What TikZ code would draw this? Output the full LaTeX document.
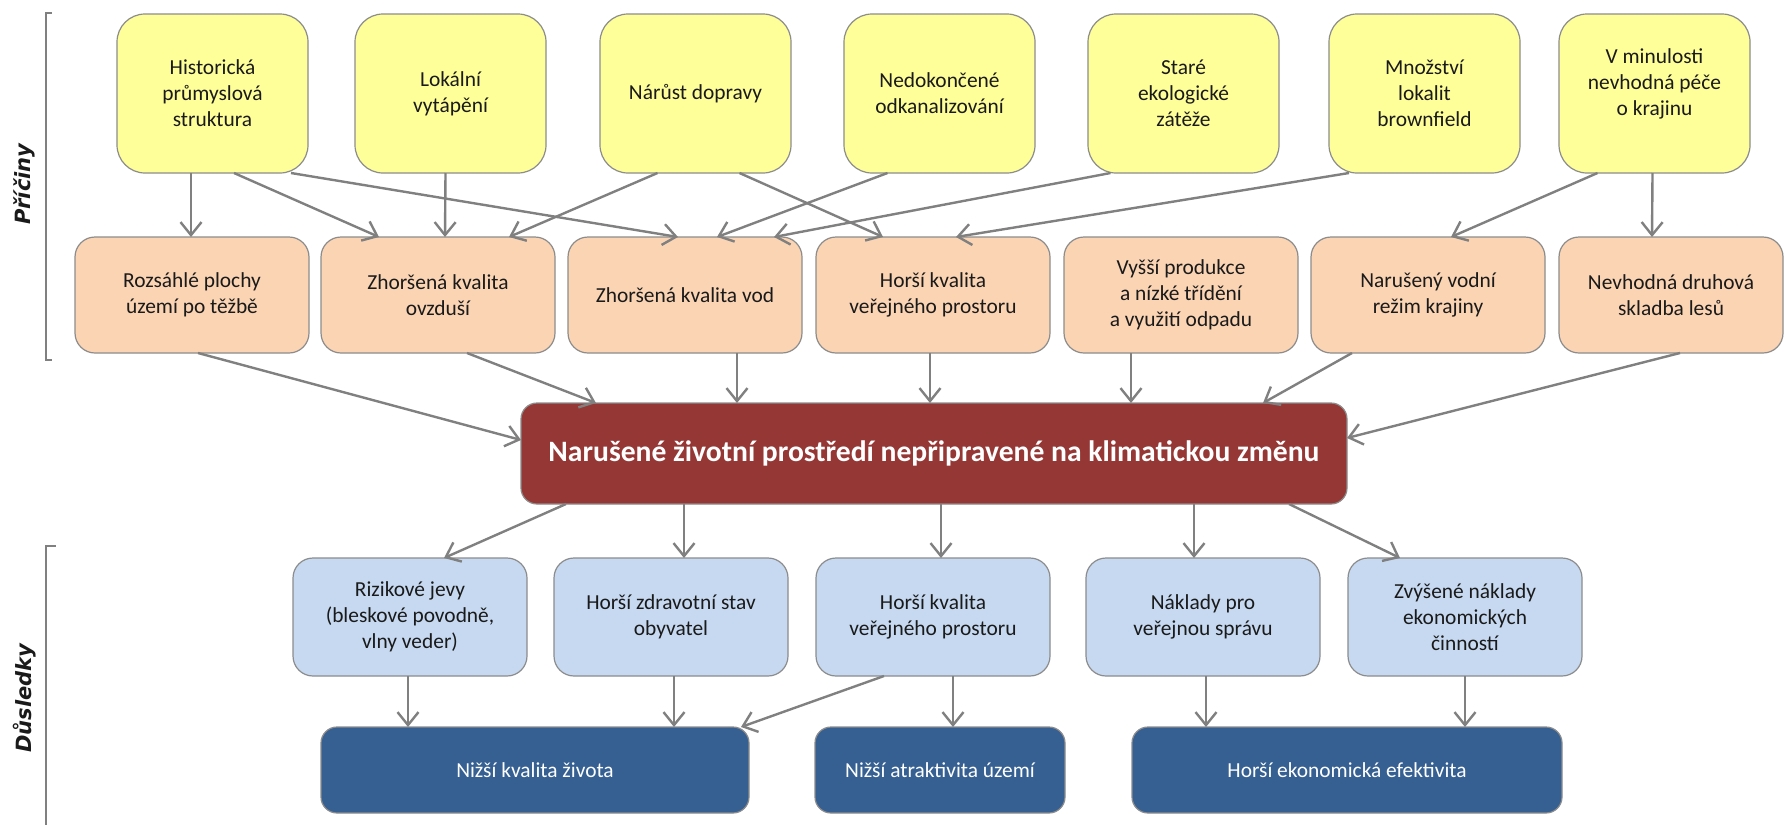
\documentclass[tikz,border=0pt]{standalone}
\usepackage{fontspec}
\setmainfont{Carlito}
\newfontfamily\sidefont{DejaVu Sans}
\usetikzlibrary{arrows.meta,calc}
\definecolor{ylw}{HTML}{FFFF99}
\definecolor{org}{HTML}{FBD4B4}
\definecolor{lblue}{HTML}{C6D9F1}
\definecolor{dblue}{HTML}{366092}
\definecolor{rd}{HTML}{953735}
\definecolor{arrgray}{HTML}{808080}
\definecolor{bordgray}{HTML}{8C8C8C}
\definecolor{txt}{HTML}{1A1A1A}
\begin{document}
\begin{tikzpicture}[x=1pt,y=-1pt,
  basebox/.style={draw=bordgray, line width=1.2pt, anchor=north west, inner sep=2pt, outer sep=0pt,
    align=center, font=\fontsize{21.4}{26}\selectfont, text=txt},
  ybox/.style={basebox, fill=ylw, rounded corners=28pt, minimum width=191pt, minimum height=159pt},
  obox/.style={basebox, fill=org, rounded corners=20pt, minimum width=234pt, minimum height=116pt},
  redbox/.style={basebox, fill=rd, rounded corners=16pt, minimum width=826pt, minimum height=101pt,
    text=white, font=\fontsize{29.6}{34}\selectfont\bfseries},
  bbox/.style={basebox, fill=lblue, rounded corners=20pt, minimum width=234pt, minimum height=118pt},
  dbox/.style={basebox, fill=dblue, rounded corners=16pt, minimum height=86pt, text=white},
  arr/.style={draw=arrgray, line width=2.4pt, -{Straight Barb[length=13pt,width=21pt]}},
  brk/.style={draw=arrgray, line width=2.4pt},
  sidelbl/.style={font=\sidefont\fontsize{21}{24}\selectfont\bfseries\itshape, text=txt, inner sep=0pt}
]
\useasboundingbox (0,0) rectangle (1784,825);

% brackets and side labels
\draw[brk] (52,13) -- (46,13) -- (46,360) -- (52,360);
\draw[brk] (56,546) -- (46,546) -- (46,825);
\node[sidelbl, rotate=90] (pric) at (24,184) {Příčiny};
\node[sidelbl, rotate=90] (dusl) at (25,698) {Důsledky};

% causes (yellow)
\node[ybox] (y1) at (117,14) {Historická\\průmyslová\\struktura};
\node[ybox] (y2) at (355,14) {Lokální\\vytápění};
\node[ybox] (y3) at (600,14) {Nárůst dopravy};
\node[ybox] (y4) at (844,14) {Nedokončené\\odkanalizování};
\node[ybox] (y5) at (1088,14) {Staré\\ekologické\\zátěže};
\node[ybox] (y6) at (1329,14) {Množství\\lokalit\\brownfield};
\node[ybox] (y7) at (1559,14) {V minulosti\\nevhodná péče\\o krajinu\\[-4pt]\mbox{}};

% problems (orange)
\node[obox] (o1) at (75,237) {Rozsáhlé plochy\\území po těžbě};
\node[obox] (o2) at (321,237) {Zhoršená kvalita\\ovzduší};
\node[obox] (o3) at (568,237) {Zhoršená kvalita vod};
\node[obox] (o4) at (816,237) {Horší kvalita\\veřejného prostoru};
\node[obox] (o5) at (1064,237) {Vyšší produkce\\a nízké třídění\\a využití odpadu};
\node[obox] (o6) at (1311,237) {Narušený vodní\\režim krajiny};
\node[obox, minimum width=224pt] (o7) at (1559,237) {Nevhodná druhová\\skladba lesů};

% central problem
\node[redbox] (red) at (521,403) {Narušené životní prostředí nepřipravené na klimatickou změnu};

% consequences (light blue)
\node[bbox] (b1) at (293,558) {Rizikové jevy\\(bleskové povodně,\\vlny veder)};
\node[bbox] (b2) at (554,558) {Horší zdravotní stav\\obyvatel};
\node[bbox] (b3) at (816,558) {Horší kvalita\\veřejného prostoru};
\node[bbox] (b4) at (1086,558) {Náklady pro\\veřejnou správu};
\node[bbox] (b5) at (1348,558) {Zvýšené náklady\\ekonomických\\činností};

% final consequences (dark blue)
\node[dbox, minimum width=428pt] (d1) at (321,727) {Nižší kvalita života};
\node[dbox, minimum width=250pt] (d2) at (815,727) {Nižší atraktivita území};
\node[dbox, minimum width=430pt] (d3) at (1132,727) {Horší ekonomická efektivita};

% yellow -> orange
\draw[arr] ([xshift=-21.5pt]y1.south) -- ([xshift=-1pt]o1.north);
\draw[arr] ([xshift=21.5pt]y1.south) -- ([xshift=-59pt]o2.north);
\draw[arr] ([xshift=78.5pt]y1.south) -- ([xshift=-7pt]o3.north);
\draw[arr] ([xshift=-5pt]y2.south) -- ([xshift=7pt]o2.north);
\draw[arr] ([xshift=-38pt]y3.south) -- ([xshift=71pt]o2.north);
\draw[arr] ([xshift=44pt]y3.south) -- ([xshift=-50pt]o4.north);
\draw[arr] ([xshift=-52pt]y4.south) -- ([xshift=32pt]o3.north);
\draw[arr] ([xshift=-73pt]y5.south) -- ([xshift=89pt]o3.north);
\draw[arr] ([xshift=-75.5pt]y6.south) -- ([xshift=23pt]o4.north);
\draw[arr] ([xshift=-57pt]y7.south) -- ([xshift=23pt]o6.north);
\draw[arr] ([xshift=-2pt]y7.south) -- ([xshift=-19pt]o7.north);

% orange -> red
\draw[arr] ([xshift=6pt]o1.south) -- ([yshift=13.5pt]red.west);
\draw[arr] ([xshift=29pt]o2.south) -- ([xshift=-338pt]red.north);
\draw[arr] ([xshift=52pt]o3.south) -- ([xshift=-197pt]red.north);
\draw[arr] ([xshift=-3pt]o4.south) -- ([xshift=-4pt]red.north);
\draw[arr] ([xshift=-50pt]o5.south) -- ([xshift=197pt]red.north);
\draw[arr] ([xshift=-76pt]o6.south) -- ([xshift=329pt]red.north);
\draw[arr] ([xshift=9pt]o7.south) -- ([yshift=15.5pt]red.east);

% red -> light blue
\draw[arr] ([xshift=-368pt]red.south) -- ([xshift=34pt]b1.north);
\draw[arr] ([xshift=-250pt]red.south) -- ([xshift=13pt]b2.north);
\draw[arr] ([xshift=7pt]red.south) -- ([xshift=8pt]b3.north);
\draw[arr] ([xshift=260pt]red.south) -- ([xshift=-9pt]b4.north);
\draw[arr] ([xshift=355pt]red.south) -- ([xshift=-65pt]b5.north);

% light blue -> dark blue
\draw[arr] ([xshift=-2pt]b1.south) -- ([xshift=-127pt]d1.north);
\draw[arr] ([xshift=3pt]b2.south) -- ([xshift=139pt]d1.north);
\draw[arr] ([xshift=-49pt]b3.south) -- ([xshift=206pt]d1.north);
\draw[arr] ([xshift=20pt]b3.south) -- ([xshift=13pt]d2.north);
\draw[arr] ([xshift=3pt]b4.south) -- ([xshift=-141pt]d3.north);
\draw[arr] ([xshift=0pt]b5.south) -- ([xshift=118pt]d3.north);
\end{tikzpicture}
\end{document}
